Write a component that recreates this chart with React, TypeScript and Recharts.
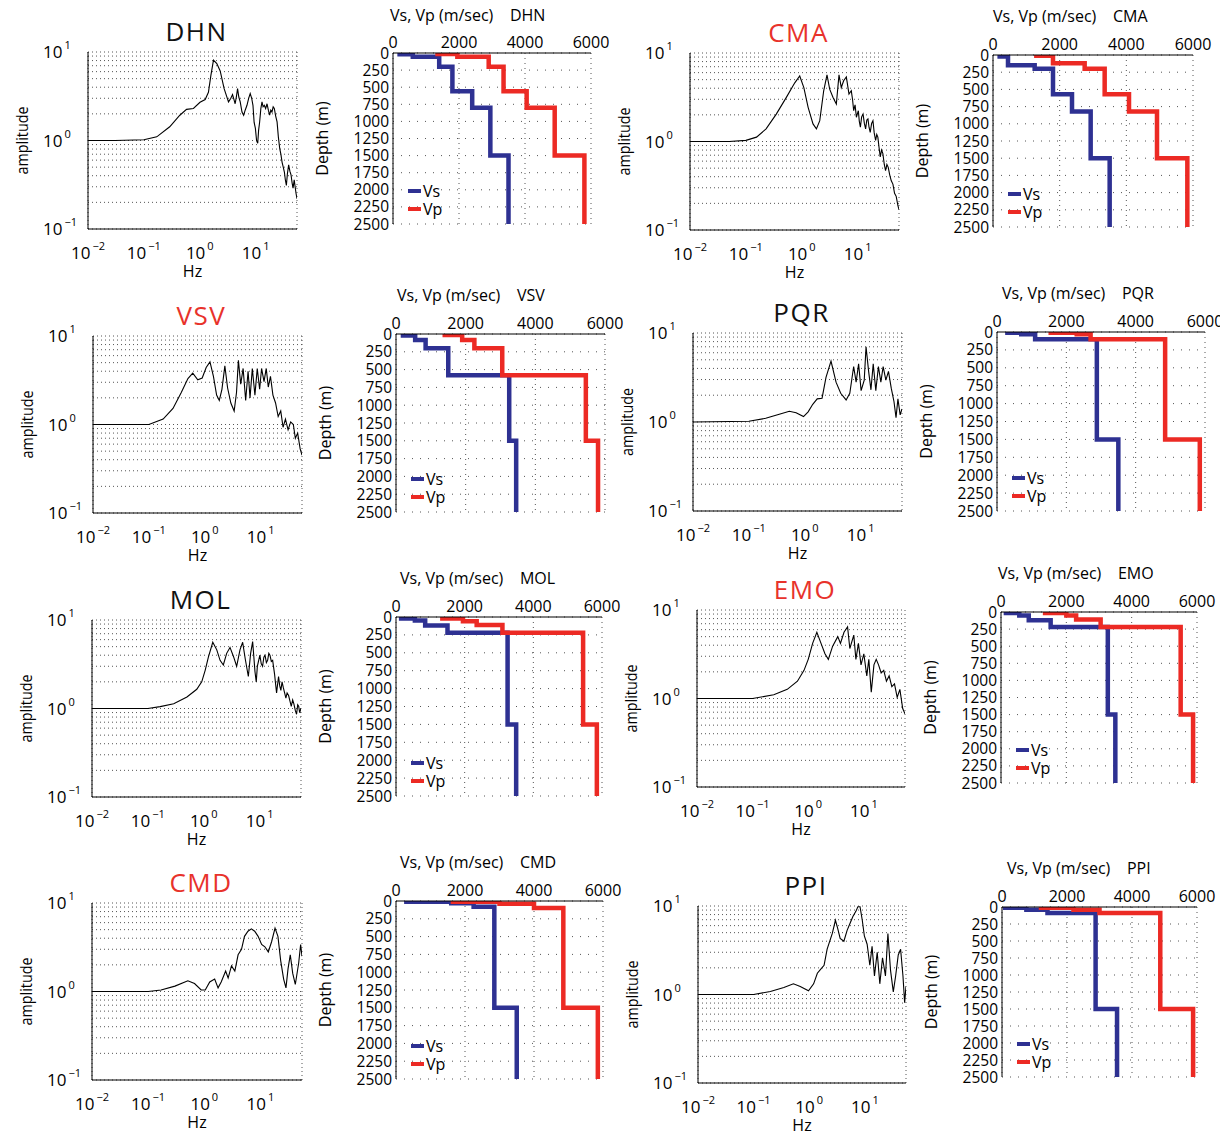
import React from 'react';
import { LineChart, Line, XAxis, YAxis, CartesianGrid, Legend } from 'recharts';

const FONT = '"Open Sans", "Liberation Sans", sans-serif';
const BLUE = '#2e3192';
const RED = '#ec2a24';
const TITLE_RED = '#e8322b';

// ---- spectra: [frequency Hz, amplitude] ----
const dhnSpectrum = [
  [0.01, 1], [0.03, 1], [0.1, 1.02], [0.17, 1.1], [0.29, 1.43], [0.44, 1.93], [0.58, 2.25], [0.77, 2.3],
  [1.01, 2.7], [1.25, 2.9], [1.43, 3.5], [1.58, 5.4], [1.76, 8.1], [2.02, 7.4], [2.32, 6.1], [2.73, 3.85],
  [3.27, 2.73], [3.6, 3.0], [3.86, 3.3], [4.1, 2.9], [4.3, 2.6], [4.55, 3.2], [4.75, 3.85], [5.0, 3.1],
  [5.3, 2.73], [5.7, 2.1], [6.1, 1.93], [6.5, 2.2], [7.0, 2.5], [7.5, 3.0], [8.0, 3.4], [8.5, 3.0],
  [8.96, 2.5], [9.4, 1.6], [9.9, 1.37], [10.4, 1.0], [10.9, 0.93], [11.3, 1.3], [11.8, 1.62], [12.4, 2.3],
  [13, 2.73], [13.6, 2.4], [14.3, 2.5], [15.1, 2.3], [16, 2.6], [16.9, 2.2], [17.8, 1.93], [18.7, 2.2],
  [19.6, 2.1], [20.6, 2.4], [21.6, 2.3], [22.8, 1.9], [24.2, 1.62], [25.5, 1.1], [27, 0.81], [28.3, 0.7],
  [29.7, 0.57], [31.2, 0.5], [32.7, 0.44], [34, 0.36], [35.5, 0.31], [37, 0.42], [39, 0.53], [41, 0.45],
  [43, 0.41], [45, 0.33], [46.8, 0.29], [49, 0.36], [50.9, 0.3], [53, 0.25], [55, 0.22],
];
const cmaSpectrum = [
  [0.01, 1], [0.05, 1], [0.1, 1.03], [0.155, 1.12], [0.23, 1.39], [0.35, 2.04], [0.53, 3.15], [0.75, 4.6],
  [0.92, 5.5], [1.09, 4.07], [1.3, 2.43], [1.59, 1.58], [1.83, 1.39], [2.1, 1.72], [2.47, 3.74], [2.83, 5.66],
  [3.16, 3.9], [3.63, 3.15], [4.16, 2.65], [4.64, 5.66], [5.1, 4.07], [5.62, 4.85], [6.28, 5.37], [7.0, 3.43],
  [7.7, 3.74], [8.1, 3.0], [8.5, 2.23], [9.0, 2.6], [9.5, 1.88], [10.3, 2.23], [10.7, 1.7], [11.2, 1.45],
  [11.8, 1.9], [12.5, 2.04], [13.2, 1.6], [13.9, 1.39], [14.6, 1.75], [15.3, 1.8], [16.0, 1.45], [16.8, 1.27],
  [17.8, 1.6], [18.8, 1.72], [19.8, 1.25], [21, 1.03], [22, 1.2], [23, 1.12], [24.2, 0.85], [25.4, 0.67],
  [26.8, 0.8], [28.3, 0.73], [30, 0.55], [31.6, 0.47], [33.4, 0.55], [35.3, 0.51], [37.5, 0.42], [40, 0.36],
  [42.8, 0.33], [45.8, 0.26], [49, 0.24], [52.5, 0.19], [55, 0.17],
];
const vsvSpectrum = [
  [0.01, 1], [0.1, 1.0], [0.18, 1.15], [0.27, 1.52], [0.38, 2.3], [0.5, 3.3], [0.61, 3.8], [0.75, 3.2],
  [0.9, 3.35], [1.06, 4.4], [1.24, 5.1], [1.43, 3.5], [1.63, 2.15], [1.82, 1.87], [2.03, 2.5], [2.29, 4.6],
  [2.56, 2.6], [2.93, 1.75], [3.36, 1.42], [3.7, 2.3], [4.0, 5.3], [4.4, 2.85], [4.86, 4.3], [5.4, 1.87],
  [5.96, 4.0], [6.46, 2.0], [7.1, 4.3], [7.9, 2.15], [8.7, 4.3], [9.6, 2.5], [10.4, 4.3], [11.5, 3.05],
  [12.6, 4.3], [13.7, 2.65], [15, 3.5], [16.6, 2.15], [18.5, 1.75], [20.6, 1.23], [22.9, 1.42], [25.2, 0.93],
  [27.8, 1.15], [31, 0.87], [34.5, 1.07], [38.5, 1.0], [41.8, 0.7], [46, 0.8], [51, 0.53], [55, 0.45],
];
const pqrSpectrum = [
  [0.01, 1], [0.1, 1.02], [0.2, 1.1], [0.35, 1.22], [0.53, 1.32], [0.7, 1.27], [0.95, 1.15], [1.15, 1.3],
  [1.39, 1.58], [1.67, 1.82], [2.04, 1.85], [2.4, 3.18], [2.95, 4.84], [3.63, 2.8], [4.4, 2.1], [5.5, 1.77],
  [6.4, 2.1], [7.5, 4.2], [8.3, 2.8], [9.2, 4.5], [10.2, 2.25], [11.6, 2.96], [12.5, 7.0], [13.9, 3.7],
  [15.3, 2.3], [16.8, 4.5], [18.7, 2.25], [20.8, 4.2], [23, 2.8], [25.3, 4.2], [28.3, 2.96], [31.5, 3.7],
  [35.3, 2.4], [39.5, 1.7], [43, 1.12], [46.5, 1.82], [51, 1.2], [55, 1.4],
];
const molSpectrum = [
  [0.01, 1], [0.1, 1.0], [0.166, 1.05], [0.29, 1.13], [0.5, 1.35], [0.75, 1.65], [0.92, 2.0], [1.06, 2.7],
  [1.21, 3.8], [1.45, 5.6], [1.71, 4.6], [1.96, 3.5], [2.24, 3.1], [2.57, 4.2], [2.95, 4.9], [3.39, 3.9],
  [3.88, 3.0], [4.45, 4.6], [4.97, 5.6], [5.54, 3.6], [6.28, 2.3], [6.9, 4.2], [7.5, 5.7], [8.26, 2.6],
  [8.7, 2.0], [9.1, 3.0], [10.1, 4.0], [10.7, 3.2], [11.3, 3.0], [11.9, 3.8], [12.5, 4.0], [13.2, 3.3],
  [13.9, 3.5], [14.6, 4.2], [15.3, 4.0], [16.2, 3.4], [17.1, 3.5], [18.5, 2.45], [19.3, 1.9], [20.1, 1.5],
  [21.8, 2.3], [22.9, 1.8], [24, 1.6], [25.2, 2.0], [26.5, 1.73], [28, 1.5], [29.5, 1.31], [31, 1.5],
  [33, 1.4], [35, 1.2], [36.8, 1.06], [39, 1.25], [41, 1.13], [43.5, 0.95], [45.8, 0.86], [48, 1.1],
  [50, 1.06], [52, 0.9], [55, 1.0],
];
const emoSpectrum = [
  [0.01, 1], [0.1, 1.0], [0.24, 1.1], [0.42, 1.27], [0.64, 1.57], [0.84, 2.08], [1.0, 2.77], [1.2, 4.2],
  [1.43, 5.6], [1.7, 4.2], [2.0, 3.2], [2.3, 2.77], [2.75, 3.9], [3.4, 5.0], [3.8, 4.2], [4.4, 5.6],
  [5.1, 6.45], [5.6, 3.67], [6.6, 5.2], [7.2, 2.77], [8.0, 4.2], [8.9, 2.4], [10, 3.2], [11.3, 1.8],
  [12.3, 2.77], [13.6, 1.18], [15.2, 2.4], [16.7, 2.77], [18.4, 2.4], [20.5, 1.94], [22.8, 2.08], [25.5, 1.57],
  [28.5, 1.8], [31.9, 1.36], [35.6, 1.46], [39.8, 1.03], [44.5, 1.27], [50, 0.77], [55, 0.67],
];
const cmdSpectrum = [
  [0.01, 1], [0.1, 1.0], [0.17, 1.04], [0.3, 1.15], [0.51, 1.32], [0.67, 1.23], [0.88, 1.04], [1.04, 1.04],
  [1.25, 1.28], [1.53, 1.38], [1.76, 1.1], [2.0, 1.28], [2.4, 1.7], [2.66, 1.42], [3.05, 1.95], [3.5, 1.7],
  [4.0, 2.6], [4.6, 3.0], [5.2, 4.2], [6.0, 4.8], [6.9, 5.1], [7.9, 4.8], [9.1, 4.2], [10.5, 3.4],
  [12, 3.2], [13.8, 2.8], [15.8, 3.65], [18.2, 5.2], [20.5, 4.2], [22.9, 2.25], [25.9, 1.38], [28.5, 1.1],
  [31, 1.8], [34, 2.6], [37.6, 1.6], [41.8, 1.2], [48, 2.1], [52, 3.4], [55, 2.5],
];
const ppiSpectrum = [
  [0.01, 1], [0.1, 1.0], [0.2, 1.08], [0.35, 1.2], [0.52, 1.32], [0.69, 1.23], [0.97, 1.1], [1.2, 1.32],
  [1.4, 1.74], [1.6, 1.92], [1.85, 2.14], [2.1, 3.25], [2.6, 4.9], [2.96, 6.9], [3.25, 5.6], [3.6, 4.3],
  [4.2, 4.0], [4.8, 5.3], [5.5, 6.5], [6.1, 7.6], [6.9, 8.7], [7.5, 9.8], [8.2, 9.8], [9.0, 6.9],
  [9.8, 4.6], [11, 3.7], [12.3, 2.14], [13.5, 3.5], [14.9, 1.62], [16.7, 3.0], [18.6, 1.32], [20.8, 2.6],
  [23.5, 1.62], [26, 4.9], [29, 1.87], [32.5, 1.07], [35.8, 1.62], [39.9, 2.8], [44, 3.25], [48.5, 1.62],
  [52, 0.81], [55, 1.23],
];

// ---- velocity profiles: [layer top depth m, velocity m/s] ----
const dhnVs = [[0, 200], [20, 600], [55, 1400], [200, 1800], [560, 2400], [800, 2950], [1500, 3500]];
const dhnVp = [[0, 1350], [15, 1950], [55, 2900], [200, 3350], [560, 4050], [800, 4900], [1500, 5800]];
const cmaVs = [[0, 200], [20, 450], [150, 1250], [200, 1800], [570, 2370], [820, 2930], [1500, 3500]];
const cmaVp = [[0, 1300], [10, 1800], [120, 2750], [200, 3350], [570, 4080], [820, 4920], [1500, 5830]];
const vsvVs = [[0, 200], [20, 550], [85, 850], [200, 1500], [580, 3250], [1500, 3450]];
const vsvVp = [[0, 1400], [15, 1900], [85, 2250], [200, 3050], [580, 5450], [1500, 5800]];
const pqrVs = [[0, 300], [10, 700], [30, 1100], [100, 2880], [1500, 3500]];
const pqrVp = [[0, 1550], [10, 2300], [30, 2700], [100, 4850], [1500, 5850]];
const molVs = [[0, 150], [20, 550], [50, 850], [120, 1500], [220, 3250], [1500, 3500]];
const molVp = [[0, 1350], [20, 1950], [60, 2350], [110, 3100], [220, 5450], [1500, 5850]];
const emoVs = [[0, 150], [15, 560], [50, 850], [120, 1520], [220, 3270], [1500, 3500]];
const emoVp = [[0, 1350], [15, 2000], [50, 2300], [110, 3050], [220, 5500], [1500, 5880]];
const cmdVs = [[0, 300], [10, 1600], [30, 2250], [80, 2850], [1500, 3500]];
const cmdVp = [[0, 1650], [10, 3000], [40, 4000], [100, 4850], [1500, 5850]];
const ppiVs = [[0, 100], [10, 750], [40, 1400], [90, 2880], [1500, 3540]];
const ppiVp = [[0, 1200], [10, 2200], [40, 3000], [90, 4870], [1500, 5880]];

// ---- ticks ----
const decadeTicks = [0.01, 0.1, 1, 10];
const ampTicks = [0.1, 1, 10];
const freqGrid = [0.01, 0.02, 0.03, 0.04, 0.05, 0.06, 0.07, 0.08, 0.09, 0.1, 0.2, 0.3, 0.4, 0.5, 0.6, 0.7, 0.8, 0.9,
  1, 2, 3, 4, 5, 6, 7, 8, 9, 10, 20, 30, 40, 50];
const ampGrid = [0.1, 0.2, 0.3, 0.4, 0.5, 0.6, 0.7, 0.8, 0.9, 1, 2, 3, 4, 5, 6, 7, 8, 9, 10];
const velTicks = [0, 2000, 4000, 6000];
const depthTicks = [0, 250, 500, 750, 1000, 1250, 1500, 1750, 2000, 2250, 2500];

const stations = [
  { name: 'DHN', spectrum: dhnSpectrum, vs: dhnVs, vp: dhnVp },
  { name: 'CMA', spectrum: cmaSpectrum, vs: cmaVs, vp: cmaVp },
  { name: 'VSV', spectrum: vsvSpectrum, vs: vsvVs, vp: vsvVp },
  { name: 'PQR', spectrum: pqrSpectrum, vs: pqrVs, vp: pqrVp },
  { name: 'MOL', spectrum: molSpectrum, vs: molVs, vp: molVp },
  { name: 'EMO', spectrum: emoSpectrum, vs: emoVs, vp: emoVp },
  { name: 'CMD', spectrum: cmdSpectrum, vs: cmdVs, vp: cmdVp },
  { name: 'PPI', spectrum: ppiSpectrum, vs: ppiVs, vp: ppiVp },
];

// layout: plot boxes [x, y, w, h] and velocity title anchor [x, yCenter]
const layout: Record<string, any> = {
  DHN: { color: '#111', spec: [88, 52, 209, 177], vel: [393, 53, 198, 171], velTitle: [390, 15] },
  CMA: { color: TITLE_RED, spec: [690, 53, 209, 177], vel: [993, 55, 200, 172], velTitle: [993, 16] },
  VSV: { color: TITLE_RED, spec: [93, 336, 209, 177], vel: [396, 334, 209, 178], velTitle: [397, 295] },
  PQR: { color: '#111', spec: [693, 333, 209, 178], vel: [997, 332, 208, 179], velTitle: [1002, 293] },
  MOL: { color: '#111', spec: [92, 620, 209, 177], vel: [396, 617, 206, 179], velTitle: [400, 578] },
  EMO: { color: TITLE_RED, spec: [697, 610, 208, 177], vel: [1001, 612, 196, 171], velTitle: [998, 573] },
  CMD: { color: TITLE_RED, spec: [92, 903, 210, 177], vel: [396, 901, 207, 178], velTitle: [400, 862] },
  PPI: { color: '#111', spec: [698, 906, 208, 177], vel: [1002, 907, 195, 170], velTitle: [1007, 868] },
};

function toSteps(layers: number[][]) {
  return layers.flatMap(([top, v], i) => {
    const bottom = i + 1 < layers.length ? layers[i + 1][0] : 2500;
    return [{ v, d: top }, { v, d: bottom }];
  });
}

const expText = (value: number) => {
  const e = Math.round(Math.log10(value));
  return e < 0 ? `\u2212${-e}` : `${e}`;
};

const XPowTick = (props: any) => {
  const { x, y, payload } = props;
  return (
    <text x={x} y={y + 30} textAnchor="middle" fontFamily={FONT} fontSize={17} fill="#000">
      10<tspan dx={2} dy={-9} fontSize={11}>{expText(payload.value)}</tspan>
    </text>
  );
};

const YPowTick = (props: any) => {
  const { x, y, payload } = props;
  return (
    <text x={x - 45} y={y + 6} textAnchor="start" fontFamily={FONT} fontSize={17} fill="#000">
      10<tspan dx={2} dy={-9} fontSize={11}>{expText(payload.value)}</tspan>
    </text>
  );
};

const NoTick = () => <g />;

function SpectrumPanel({ name, color, points, box }: any) {
  const [bx, by, bw, bh] = box;
  const ML = 80, MT = 18, MR = 10, MB = 54;
  const data = points.map(([f, a]: number[]) => ({ f, a }));
  const logX = { type: 'number' as const, scale: 'log' as const, domain: [0.01, 55], allowDataOverflow: true };
  const logY = { type: 'number' as const, scale: 'log' as const, domain: [0.1, 10], allowDataOverflow: true };
  return (
    <>
      <div style={{ position: 'absolute', left: bx + 4, width: bw, top: by - 38, textAlign: 'center', fontSize: 26, lineHeight: '34px', color, fontFamily: FONT, letterSpacing: 1.5 }}>
        {name}
      </div>
      <div style={{ position: 'absolute', left: bx - ML, top: by - MT }}>
        <LineChart width={ML + bw + MR} height={MT + bh + MB} data={data} margin={{ top: MT, right: MR, bottom: 0, left: 0 }}>
          <CartesianGrid xAxisId="gx" yAxisId="gy" stroke="#555" strokeDasharray="1 3" />
          <XAxis xAxisId="main" dataKey="f" {...logX} ticks={decadeTicks} interval={0} height={MB}
            tickLine={false} tickSize={0} tickMargin={0} axisLine={{ stroke: '#000' }} tick={XPowTick}
            label={{ content: ({ viewBox }: any) => (
              <text x={viewBox.x + viewBox.width / 2} y={viewBox.y + 48} textAnchor="middle" fontFamily={FONT} fontSize={16} fill="#000">Hz</text>
            ) }} />
          <XAxis xAxisId="gx" orientation="bottom" mirror {...logX} ticks={freqGrid} interval={0} height={0}
            tick={NoTick} tickSize={3} tickLine={{ stroke: '#000' }} axisLine={false} />
          <XAxis xAxisId="top" orientation="top" mirror {...logX} ticks={freqGrid} interval={0} height={0}
            tick={NoTick} tickSize={3} tickLine={{ stroke: '#000' }} axisLine={{ stroke: '#000' }} />
          <YAxis yAxisId="main" {...logY} ticks={ampTicks} interval={0} width={ML}
            tickLine={false} tickSize={0} tickMargin={0} axisLine={{ stroke: '#000' }} tick={YPowTick}
            label={{ content: ({ viewBox }: any) => {
              const cx = viewBox.x + viewBox.width - 66;
              const cy = viewBox.y + viewBox.height / 2;
              return (
                <text x={cx} y={cy} transform={`rotate(-90 ${cx} ${cy})`} textAnchor="middle" dominantBaseline="central"
                  fontFamily={FONT} fontSize={16} fill="#000" textLength={68} lengthAdjust="spacingAndGlyphs">amplitude</text>
              );
            } }} />
          <YAxis yAxisId="gy" orientation="left" mirror {...logY} ticks={ampGrid} interval={0} width={0}
            tick={NoTick} tickSize={3} tickLine={{ stroke: '#000' }} axisLine={false} />
          <YAxis yAxisId="right" orientation="right" mirror {...logY} ticks={ampGrid} interval={0} width={0}
            tick={NoTick} tickSize={3} tickLine={{ stroke: '#000' }} axisLine={{ stroke: '#000' }} />
          <Line xAxisId="main" yAxisId="main" dataKey="a" type="linear" stroke="#000" strokeWidth={1.1}
            dot={false} isAnimationActive={false} />
        </LineChart>
      </div>
    </>
  );
}

const legendOrder = ['Vs', 'Vp'];

const renderVelLegend = ({ payload }: any) => {
  const items = [...(payload || [])].sort((a: any, b: any) => legendOrder.indexOf(a.value) - legendOrder.indexOf(b.value));
  return (
    <div style={{ fontFamily: FONT, fontSize: 16, lineHeight: '18px', color: '#000' }}>
      {items.map((e: any) => (
        <div key={e.value} style={{ display: 'flex', alignItems: 'center', height: 18 }}>
          <span style={{ display: 'inline-block', width: 13, height: 4, background: e.color, marginRight: 2 }} />
          {e.value}
        </div>
      ))}
    </div>
  );
};

function VelocityPanel({ name, vs, vp, box, title }: any) {
  const [bx, by, bw, bh] = box;
  const ML = 86, MT = 26, MR = 24, MB = 12;
  const vAxis = { type: 'number' as const, domain: [0, 6000], allowDataOverflow: true };
  const dAxis = { type: 'number' as const, domain: [0, 2500], allowDataOverflow: true, reversed: true };
  return (
    <>
      <div style={{ position: 'absolute', left: title[0], top: title[1] - 11, fontSize: 16, lineHeight: '22px', whiteSpace: 'pre', fontFamily: FONT, color: '#000' }}>
        {`Vs, Vp (m/sec)    ${name}`}
      </div>
      <div style={{ position: 'absolute', left: bx - ML, top: by - MT }}>
        <LineChart width={ML + bw + MR} height={MT + bh + MB} margin={{ top: 0, right: MR, bottom: MB, left: 0 }}>
          <CartesianGrid xAxisId="v" yAxisId="d" vertical={false} stroke="#555" strokeDasharray="1 7" />
          <CartesianGrid xAxisId="v" yAxisId="d" horizontal={false} stroke="#555" strokeDasharray="1 4" />
          <XAxis xAxisId="v" dataKey="v" orientation="top" {...vAxis} ticks={velTicks} interval={0} height={MT}
            tickLine={false} tickSize={0} tickMargin={5} axisLine={{ stroke: '#000' }}
            tick={{ fontSize: 16, fill: '#000', fontFamily: FONT }} />
          <XAxis xAxisId="vb" orientation="bottom" mirror {...vAxis} height={0} tick={false} tickLine={false}
            axisLine={{ stroke: '#000' }} />
          <YAxis yAxisId="d" {...dAxis} ticks={depthTicks} interval={0} width={ML}
            tickLine={false} tickSize={0} tickMargin={4} axisLine={{ stroke: '#000' }}
            tick={{ fontSize: 15.5, fill: '#000', fontFamily: FONT }}
            label={{ content: ({ viewBox }: any) => {
              const cx = viewBox.x + viewBox.width - 71;
              const cy = viewBox.y + viewBox.height / 2;
              return (
                <text x={cx} y={cy} transform={`rotate(-90 ${cx} ${cy})`} textAnchor="middle" dominantBaseline="central"
                  fontFamily={FONT} fontSize={16} fill="#000">Depth (m)</text>
              );
            } }} />
          <YAxis yAxisId="dr" orientation="right" mirror {...dAxis} width={0} tick={false} tickLine={false}
            axisLine={{ stroke: '#000' }} />
          <Line xAxisId="v" yAxisId="d" data={toSteps(vs)} dataKey="d" name="Vs" type="linear" stroke={BLUE}
            strokeWidth={4.5} dot={false} isAnimationActive={false} />
          <Line xAxisId="v" yAxisId="d" data={toSteps(vp)} dataKey="d" name="Vp" type="linear" stroke={RED}
            strokeWidth={4.5} dot={false} isAnimationActive={false} />
          <Legend content={renderVelLegend} layout="vertical" align="center" verticalAlign="middle"
            wrapperStyle={{ left: ML + 15, top: MT + bh - 42, width: 60, height: 36 }} />
        </LineChart>
      </div>
    </>
  );
}

export default function App() {
  return (
    <div style={{ position: 'absolute', left: 0, top: 0, width: 1220, height: 1133, background: '#fff', overflow: 'hidden', fontFamily: FONT }}>
      {stations.map((s) => {
        const L = layout[s.name];
        return (
          <React.Fragment key={s.name}>
            <SpectrumPanel name={s.name} color={L.color} points={s.spectrum} box={L.spec} />
            <VelocityPanel name={s.name} vs={s.vs} vp={s.vp} box={L.vel} title={L.velTitle} />
          </React.Fragment>
        );
      })}
    </div>
  );
}
